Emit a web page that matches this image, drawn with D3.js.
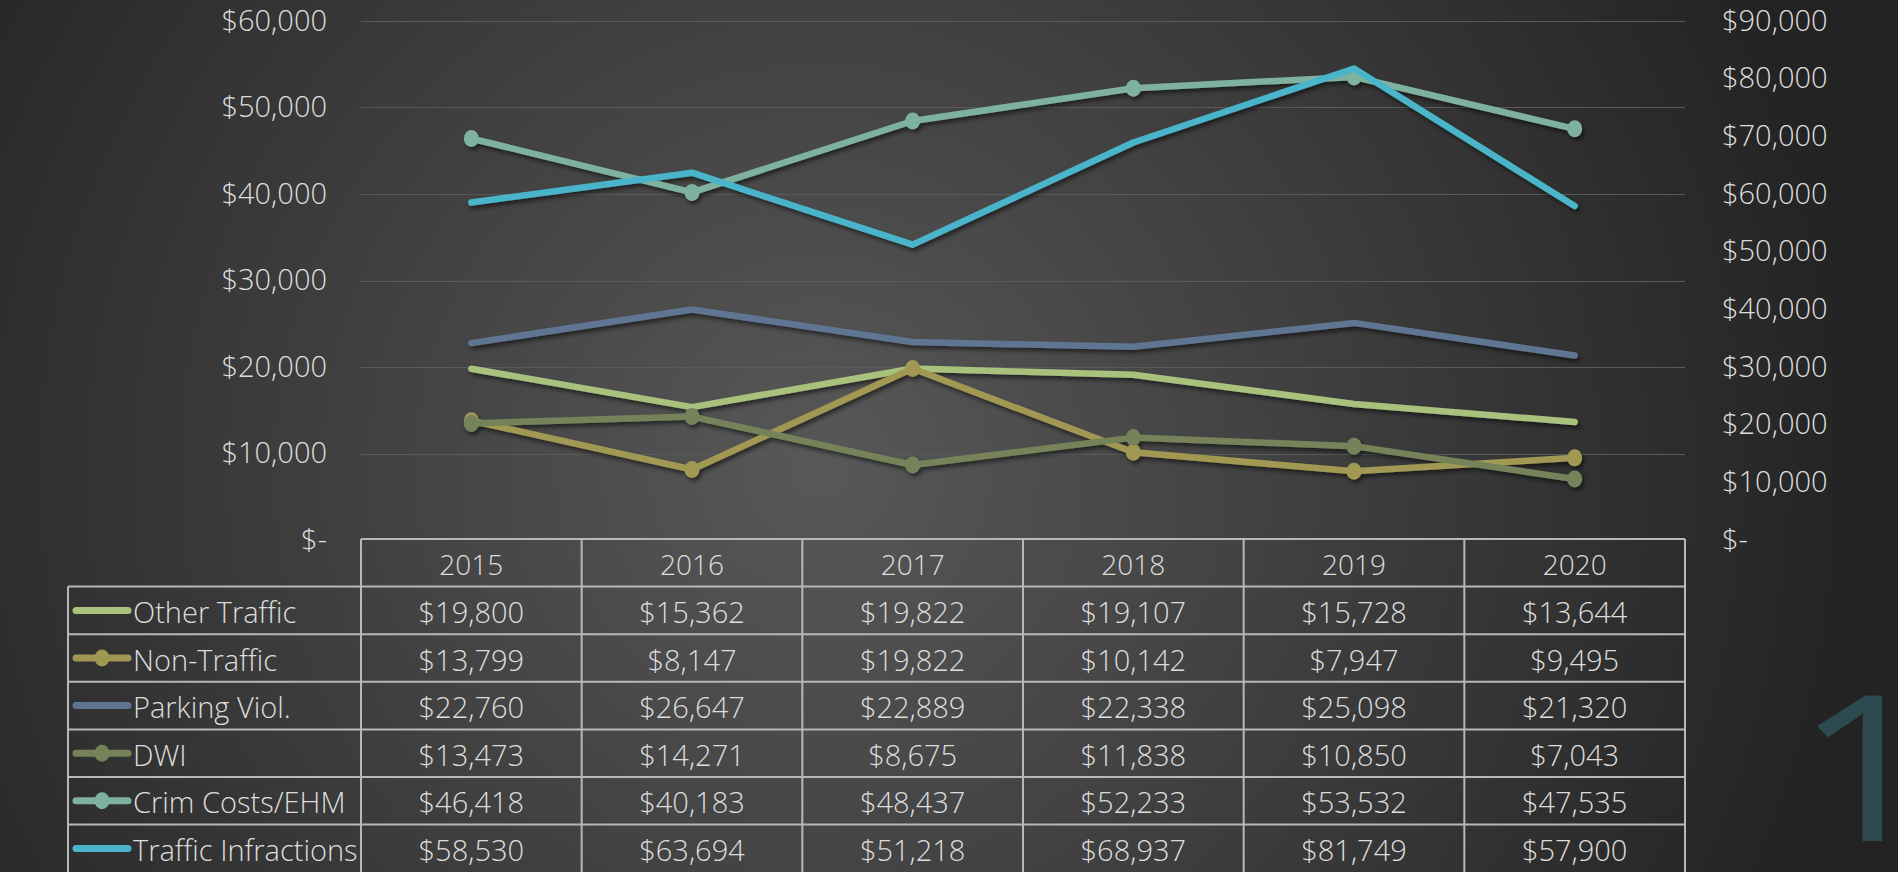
<!DOCTYPE html>
<html>
<head>
<meta charset="utf-8">
<script src="https://cdn.jsdelivr.net/npm/d3@7"></script>
<style>
  html, body { margin: 0; padding: 0; background: #2a2a2a; }
  svg { display: block; }
  text { font-family: "Open Sans", "Noto Sans", sans-serif; font-weight: 300; fill: #dddddd; }
</style>
</head>
<body>
<svg width="1898" height="872"></svg>
<script>
// data
const years = ['2015', '2016', '2017', '2018', '2019', '2020'];
const otherTraffic = [19800, 15362, 19822, 19107, 15728, 13644];
const nonTraffic = [13799, 8147, 19822, 10142, 7947, 9495];
const parkingViol = [22760, 26647, 22889, 22338, 25098, 21320];
const dwi = [13473, 14271, 8675, 11838, 10850, 7043];
const crimCosts = [46418, 40183, 48437, 52233, 53532, 47535];
const trafficInfractions = [58530, 63694, 51218, 68937, 81749, 57900];
const seriesNames = ['Other Traffic', 'Non-Traffic', 'Parking Viol.', 'DWI', 'Crim Costs/EHM', 'Traffic Infractions'];
const leftTicks = [0, 10000, 20000, 30000, 40000, 50000, 60000];
const rightTicks = [0, 10000, 20000, 30000, 40000, 50000, 60000, 70000, 80000, 90000];
const slideNumber = '1';

// series setup (colour, marker, axis)
const series = [
  { name: seriesNames[0], values: otherTraffic, color: '#a8c27e', marker: false, axis: 'left' },
  { name: seriesNames[1], values: nonTraffic, color: '#a09852', marker: true, axis: 'left' },
  { name: seriesNames[2], values: parkingViol, color: '#5e7591', marker: false, axis: 'left' },
  { name: seriesNames[3], values: dwi, color: '#76835a', marker: true, axis: 'left' },
  { name: seriesNames[4], values: crimCosts, color: '#7fb29e', marker: true, axis: 'left' },
  { name: seriesNames[5], values: trafficInfractions, color: '#4ab4ca', marker: false, axis: 'right' }
];

const W = 1898, H = 872;
const plot = { left: 361, right: 1685, top: 21, bottom: 540 };
const rowH = 47.6;
const legendLeft = 68;
const fontSize = '29px';

const svg = d3.select('svg');
const defs = svg.append('defs');

// background
const bg = defs.append('radialGradient').attr('id', 'bg')
  .attr('gradientUnits', 'userSpaceOnUse')
  .attr('cx', 820).attr('cy', 470).attr('r', 1050);
bg.append('stop').attr('offset', '0%').attr('stop-color', '#585858');
bg.append('stop').attr('offset', '100%').attr('stop-color', '#232323');
svg.append('rect').attr('width', W).attr('height', H).attr('fill', 'url(#bg)');

const shadow = defs.append('filter').attr('id', 'shadow')
  .attr('x', '-10%').attr('y', '-10%').attr('width', '120%').attr('height', '130%');
shadow.append('feDropShadow').attr('dx', 2).attr('dy', 3).attr('stdDeviation', 2)
  .attr('flood-color', '#000').attr('flood-opacity', 0.55);

// big slide number (widened a bit to match the original glyph)
svg.append('text').attr('transform', 'translate(1866,841) scale(1.22,1)')
  .attr('text-anchor', 'middle')
  .style('font-size', '204px').style('fill', '#2e4a51').style('font-weight', 400)
  .text(slideNumber);

// scales
const x = d3.scaleBand().domain(years).range([plot.left, plot.right]);
const cx = d => x(d) + x.bandwidth() / 2;
const yL = d3.scaleLinear().domain([0, 60000]).range([plot.bottom, plot.top]);
const yR = d3.scaleLinear().domain([0, 90000]).range([plot.bottom, plot.top]);
const fmt = v => v === 0 ? '$-' : '$' + d3.format(',')(v);

// gridlines
svg.append('g').selectAll('line')
  .data(leftTicks.filter(t => t > 0))
  .join('line')
  .attr('x1', plot.left).attr('x2', plot.right)
  .attr('y1', d => Math.round(yL(d)) + 0.5).attr('y2', d => Math.round(yL(d)) + 0.5)
  .attr('stroke', '#5a5a5a').attr('stroke-width', 1.2);

// axes
const gl = svg.append('g').attr('transform', `translate(${plot.left},0)`)
  .call(d3.axisLeft(yL).tickValues(leftTicks).tickFormat(fmt).tickSize(0).tickPadding(34));
const gr = svg.append('g').attr('transform', `translate(${plot.right},0)`)
  .call(d3.axisRight(yR).tickValues(rightTicks).tickFormat(fmt).tickSize(0).tickPadding(37));
[gl, gr].forEach(g => {
  g.select('.domain').remove();
  g.attr('font-family', null).attr('font-size', null);
  g.selectAll('text').attr('fill', null).style('font-size', fontSize);
});

// lines
const lines = svg.append('g').attr('filter', 'url(#shadow)');
series.forEach(s => {
  const y = s.axis === 'left' ? yL : yR;
  const line = d3.line().x((d, i) => cx(years[i])).y(d => y(d));
  lines.append('path').datum(s.values)
    .attr('d', line)
    .attr('fill', 'none')
    .attr('stroke', s.color)
    .attr('stroke-width', 6.5)
    .attr('stroke-linejoin', 'round')
    .attr('stroke-linecap', 'round');
  if (s.marker) {
    lines.append('g').selectAll('ellipse').data(s.values).join('ellipse')
      .attr('cx', (d, i) => cx(years[i])).attr('cy', d => y(d))
      .attr('rx', 7.5).attr('ry', 8.5)
      .attr('fill', s.color);
  }
});

// data table
const table = svg.append('g');
const tableTop = plot.bottom - 1;
const lineColor = '#b8b8b8';

// header row
table.append('line').attr('x1', plot.left).attr('x2', plot.right)
  .attr('y1', tableTop).attr('y2', tableTop)
  .attr('stroke', lineColor).attr('stroke-width', 2);
table.selectAll('.hdr').data(years).join('text').attr('class', 'hdr')
  .attr('x', d => cx(d)).attr('y', tableTop + rowH / 2 + 1)
  .attr('text-anchor', 'middle').attr('dominant-baseline', 'central')
  .style('font-size', '28px').text(d => d);

// horizontal row lines
const rowTops = series.map((s, i) => tableTop + rowH * (i + 1));
table.selectAll('.hl').data(rowTops).join('line').attr('class', 'hl')
  .attr('x1', legendLeft).attr('x2', plot.right)
  .attr('y1', d => d).attr('y2', d => d)
  .attr('stroke', lineColor).attr('stroke-width', 2);

// vertical lines
const vx = years.map(d => x(d)).concat([plot.right]);
table.selectAll('.vl').data(vx).join('line').attr('class', 'vl')
  .attr('x1', d => d).attr('x2', d => d)
  .attr('y1', tableTop).attr('y2', H)
  .attr('stroke', lineColor).attr('stroke-width', 2);
table.append('line').attr('x1', legendLeft).attr('x2', legendLeft)
  .attr('y1', rowTops[0]).attr('y2', H)
  .attr('stroke', lineColor).attr('stroke-width', 2);

// rows
series.forEach((s, i) => {
  const mid = rowTops[i] + rowH / 2;
  const row = table.append('g');
  row.append('line').attr('x1', 76).attr('x2', 128).attr('y1', mid).attr('y2', mid)
    .attr('stroke', s.color).attr('stroke-width', 7).attr('stroke-linecap', 'round');
  if (s.marker) {
    row.append('ellipse').attr('cx', 102).attr('cy', mid).attr('rx', 7.5).attr('ry', 8.5)
      .attr('fill', s.color);
  }
  row.append('text').attr('x', 133).attr('y', mid + 1)
    .attr('dominant-baseline', 'central')
    .style('font-size', fontSize).text(s.name);
  row.selectAll('.val').data(s.values).join('text').attr('class', 'val')
    .attr('x', (d, j) => cx(years[j])).attr('y', mid + 1)
    .attr('text-anchor', 'middle').attr('dominant-baseline', 'central')
    .style('font-size', fontSize).text(d => fmt(d));
});
</script>
</body>
</html>
